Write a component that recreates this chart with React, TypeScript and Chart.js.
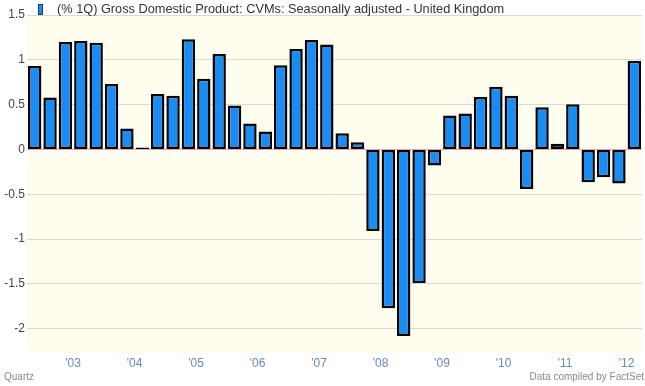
import React, { useEffect, useRef } from "react";
import { Chart, registerables } from "chart.js";

Chart.register(...registerables);

const quarters: string[] = [
  "2002 Q2", "2002 Q3", "2002 Q4",
  "2003 Q1", "2003 Q2", "2003 Q3", "2003 Q4",
  "2004 Q1", "2004 Q2", "2004 Q3", "2004 Q4",
  "2005 Q1", "2005 Q2", "2005 Q3", "2005 Q4",
  "2006 Q1", "2006 Q2", "2006 Q3", "2006 Q4",
  "2007 Q1", "2007 Q2", "2007 Q3", "2007 Q4",
  "2008 Q1", "2008 Q2", "2008 Q3", "2008 Q4",
  "2009 Q1", "2009 Q2", "2009 Q3", "2009 Q4",
  "2010 Q1", "2010 Q2", "2010 Q3", "2010 Q4",
  "2011 Q1", "2011 Q2", "2011 Q3", "2011 Q4",
  "2012 Q1",
];

const gdpGrowth: number[] = [
  0.93, 0.58, 1.2, 1.21, 1.19, 0.73, 0.235, 0.01,
  0.62, 0.6, 1.23, 0.79, 1.065, 0.49, 0.29, 0.2,
  0.94, 1.12, 1.22, 1.17, 0.18, 0.08, -0.91, -1.77,
  -2.08, -1.49, -0.18, 0.38, 0.4, 0.585, 0.7, 0.6,
  -0.44, 0.47, 0.065, 0.505, -0.365, -0.31, -0.38, 0.99,
];

const yearLabels: string[] = ["'03", "'04", "'05", "'06", "'07", "'08", "'09", "'10", "'11", "'12"];
const yearStartQuarters: string[] = [
  "2003 Q1", "2004 Q1", "2005 Q1", "2006 Q1", "2007 Q1",
  "2008 Q1", "2009 Q1", "2010 Q1", "2011 Q1", "2012 Q1",
];
const yTicks: number[] = [-2, -1.5, -1, -0.5, 0, 0.5, 1, 1.5];

const legendText = "(% 1Q) Gross Domestic Product: CVMs: Seasonally adjusted - United Kingdom";
const FONT = "'Liberation Sans', Arial, sans-serif";

export default function App() {
  const ref = useRef<HTMLCanvasElement | null>(null);

  useEffect(() => {
    document.body.style.margin = "0";
    const canvas = ref.current;
    if (!canvas) return;

    const yearPositions = yearStartQuarters.map((q) => quarters.indexOf(q));

    const bgPlugin = {
      id: "bg",
      beforeDraw(chart: any) {
        const { ctx, chartArea } = chart;
        ctx.save();
        ctx.fillStyle = "#ffffff";
        ctx.fillRect(0, 0, chart.width, chart.height);
        ctx.fillStyle = "#fffdee";
        ctx.fillRect(chartArea.left, chartArea.top, chartArea.right - chartArea.left, chartArea.bottom - chartArea.top);
        ctx.restore();
      },
      afterDatasetsDraw(chart: any) {
        const { ctx, chartArea } = chart;
        const y0 = Math.round(chart.scales.y.getPixelForValue(0)) + 0.5;
        ctx.save();
        ctx.strokeStyle = "rgba(225,140,180,0.8)";
        ctx.lineWidth = 1;
        ctx.beginPath();
        ctx.moveTo(chartArea.left, y0);
        ctx.lineTo(chartArea.right, y0);
        ctx.stroke();
        ctx.restore();
      },
      afterDraw(chart: any) {
        const { ctx } = chart;
        ctx.save();
        ctx.fillStyle = "#1e8cf0";
        ctx.fillRect(38.5, 4.5, 4, 10);
        ctx.strokeStyle = "#1a3a6a";
        ctx.lineWidth = 1;
        ctx.strokeRect(38.5, 4.5, 4, 10);
        ctx.fillStyle = "#333333";
        ctx.font = `12.75px ${FONT}`;
        ctx.textBaseline = "middle";
        ctx.textAlign = "left";
        ctx.fillText(legendText, 57, 9);
        ctx.fillStyle = "#8a8a8a";
        ctx.font = `10px ${FONT}`;
        ctx.textBaseline = "middle";
        ctx.fillText("Quartz", 4, 377);
        ctx.textAlign = "right";
        ctx.fillText("Data compiled by FactSet", 644, 377);
        ctx.restore();
      },
    };

    const chart = new Chart(canvas, {
      type: "bar",
      data: {
        datasets: [
          {
            label: legendText,
            data: gdpGrowth.map((v, i) => ({ x: i + 0.5, y: v })),
            backgroundColor: "#1a8cf5",
            borderColor: "#050505",
            borderWidth: 2.5,
            borderSkipped: false,
            minBarLength: 2,
            barPercentage: 0.87,
            categoryPercentage: 1,
          },
        ],
      },
      options: {
        responsive: false,
        animation: false,
        layout: { padding: { left: 0, right: 3, top: 15, bottom: 13 } },
        plugins: {
          legend: { display: false },
          tooltip: { enabled: false },
          title: { display: false },
        },
        scales: {
          x: {
            type: "linear",
            min: 0,
            max: quarters.length,
            offset: false,
            grid: { display: false, drawTicks: false, offset: false },
            border: { display: false },
            afterBuildTicks: (scale: any) => {
              scale.ticks = yearPositions.map((v) => ({ value: v }));
            },
            afterFit: (scale: any) => {
              scale.height = 20;
            },
            ticks: {
              autoSkip: false,
              maxRotation: 0,
              padding: 3,
              color: "#6a8bb5",
              font: { family: FONT, size: 12 },
              callback: (value: any) => {
                const idx = yearPositions.indexOf(Number(value));
                return idx >= 0 ? yearLabels[idx] : "";
              },
            },
          },
          y: {
            min: -2.27,
            max: 1.5,
            grid: {
              color: (c: any) => (c.tick && c.tick.value === 0 ? "rgba(0,0,0,0)" : "#dcdad0"),
              drawTicks: false,
              lineWidth: 1,
            },
            border: { display: false },
            afterBuildTicks: (scale: any) => {
              scale.ticks = yTicks.map((v) => ({ value: v }));
            },
            afterFit: (scale: any) => {
              scale.width = 27;
            },
            ticks: {
              padding: 2,
              color: "#444444",
              font: { family: FONT, size: 12 },
              callback: (value: any) => String(value),
            },
          },
        },
      },
      plugins: [bgPlugin],
    });

    return () => chart.destroy();
  }, []);

  return (
    <div style={{ position: "absolute", left: 0, top: 0, width: 645, height: 386 }}>
      <canvas ref={ref} width={645} height={386} />
    </div>
  );
}
